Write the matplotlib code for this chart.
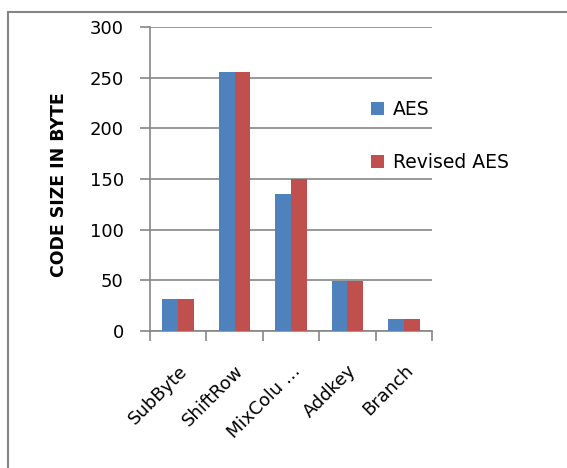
import numpy as np
import matplotlib
matplotlib.use('Agg')
from matplotlib import pyplot as plt
from matplotlib.patches import Rectangle

# code size per AES step, in bytes
steps = ['SubByte', 'ShiftRow', 'MixColu \u2026', 'Addkey', 'Branch']
aes = [32, 256, 135, 49, 12]
revised_aes = [32, 256, 150, 49, 12]

BLUE = '#4F81BD'
RED = '#C0504D'
GRID = '#868686'

fig = plt.figure(figsize=(5.67, 4.68), dpi=100)
ax = fig.add_axes([0.2646, 0.2927, 0.4974, 0.6496])

x = np.arange(len(steps))
w = 0.28
ax.bar(x - w / 2, aes, width=w, color=BLUE, label='AES', zorder=3)
ax.bar(x + w / 2, revised_aes, width=w, color=RED, label='Revised AES', zorder=3)

ax.set_xlim(-0.5, len(steps) - 0.5)
ax.set_ylim(0, 300)
ax.set_yticks(range(0, 301, 50))
ax.yaxis.grid(True, color=GRID, linewidth=1.2, zorder=0)

# labels at category centres, tick marks at the boundaries
ax.set_xticks(x)
ax.set_xticklabels(steps, rotation=45, ha='right', rotation_mode='anchor', fontsize=13)
ax.set_xticks(np.arange(-0.5, len(steps)), minor=True)
ax.tick_params(axis='x', which='major', length=0, pad=22)
ax.tick_params(axis='x', which='minor', length=7, width=1.2, color=GRID)
ax.tick_params(axis='y', length=7, width=1.2, color=GRID, labelsize=13, pad=12)

for side in ['top', 'right']:
    ax.spines[side].set_visible(False)
for side in ['left', 'bottom']:
    ax.spines[side].set_color(GRID)
    ax.spines[side].set_linewidth(1.2)

fig.text(59 / 567, 1 - 185 / 468, 'CODE SIZE IN BYTE', rotation=90, ha='center', va='center',
         fontsize=12.5, fontweight='bold')

ax.legend(loc='upper left', bbox_to_anchor=(371 / 567, 1 - 100 / 468), bbox_transform=fig.transFigure,
          frameon=False, fontsize=13.5, handlelength=0.7, handleheight=0.7, handletextpad=0.45,
          labelspacing=1.8, borderpad=0, borderaxespad=0)

# chart frame
fig.patches.append(Rectangle((8 / 567, -0.2), 1.2, 1.2 - 12 / 468, transform=fig.transFigure,
                             fill=False, edgecolor=GRID, linewidth=1.5))

plt.savefig('out.png', dpi=100)
